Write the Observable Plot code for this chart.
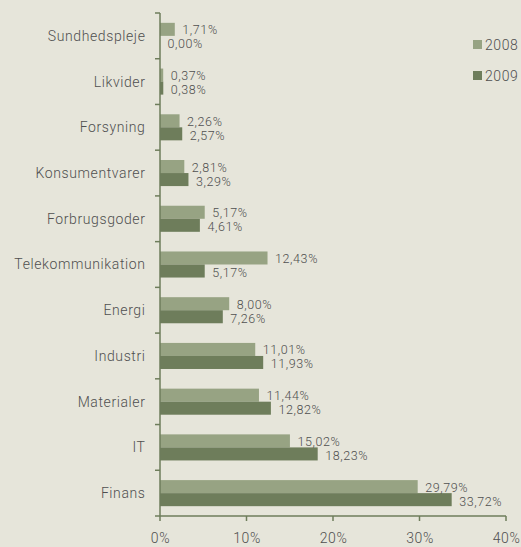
<!DOCTYPE html>
<html>
<head>
<meta charset="utf-8">
<script src="https://cdn.jsdelivr.net/npm/d3@7"></script>
<script src="https://cdn.jsdelivr.net/npm/@observablehq/plot@0.6"></script>
<style>
  html, body { margin: 0; padding: 0; background: #e6e5da; }
  #wrap { position: relative; width: 521px; height: 547px; }
  #legend { position: absolute; left: 473px; top: 37px; font-family: Roboto, sans-serif; font-weight: 300; font-size: 14px; color: #4f4f4f; }
  #legend div { display: flex; align-items: center; height: 15px; margin-bottom: 16px; letter-spacing: 0.6px; }
  #legend span.sw { display: inline-block; width: 9px; height: 9px; margin-right: 3px; }
  svg text { font-weight: 300; }
</style>
</head>
<body>
<div id="wrap"><div id="legend"></div></div>
<script>
const categories = ["Sundhedspleje", "Likvider", "Forsyning", "Konsumentvarer", "Forbrugsgoder", "Telekommunikation", "Energi", "Industri", "Materialer", "IT", "Finans"];
const values2008 = [1.71, 0.37, 2.26, 2.81, 5.17, 12.43, 8.00, 11.01, 11.44, 15.02, 29.79];
const values2009 = [0.00, 0.38, 2.57, 3.29, 4.61, 5.17, 7.26, 11.93, 12.82, 18.23, 33.72];
const years = ["2008", "2009"];
const xTicks = [0, 10, 20, 30, 40];

const colors = {"2008": "#97a383", "2009": "#6e7d5b"};
const axisColor = "#6e7d5b";
const textColor = "#4f4f4f";
const font = 'Roboto, sans-serif';

const W = 521, H = 547, mt = 13, mb = 31, ml = 160, mr = 15;
const padIn = 0.43;
const step = (H - mt - mb) / categories.length;
const bw = step * (1 - padIn);

const data = [];
categories.forEach((c, i) => {
  data.push({cat: c, year: "2008", v: values2008[i]});
  data.push({cat: c, year: "2009", v: values2009[i]});
});
const d08 = data.filter(d => d.year === "2008");
const d09 = data.filter(d => d.year === "2009");
const fmt = v => v.toFixed(2).replace(".", ",") + "%";

function axes(index, scales, values, dimensions) {
  const x = scales.x;
  const g = d3.create("svg:g").attr("stroke", axisColor).attr("stroke-width", 1.5);
  const {marginTop, marginBottom, height} = dimensions;
  const x0 = x(0);
  const yb = height - marginBottom;
  g.append("line").attr("x1", x0).attr("x2", x0).attr("y1", marginTop).attr("y2", yb);
  g.append("line").attr("x1", x0 - 5).attr("x2", x(40)).attr("y1", yb).attr("y2", yb);
  const s = (yb - marginTop) / categories.length;
  for (let i = 0; i < categories.length; i++) {
    const yy = marginTop + i * s;
    g.append("line").attr("x1", x0 - 5).attr("x2", x0).attr("y1", yy).attr("y2", yy);
  }
  for (const t of xTicks) {
    g.append("line").attr("x1", x(t)).attr("x2", x(t)).attr("y1", yb).attr("y2", yb + 5);
  }
  return g.node();
}

const chart = Plot.plot({
  width: W, height: H,
  marginTop: mt, marginBottom: mb, marginLeft: ml, marginRight: mr,
  style: {background: "transparent", fontFamily: font, color: textColor},
  x: {domain: [0, 40], ticks: xTicks, tickFormat: d => d + "%", label: null},
  y: {domain: categories, paddingInner: padIn, paddingOuter: padIn / 2, round: false, label: null},
  marks: [
    Plot.barX(d08, {y: "cat", x: "v", fill: colors["2008"], insetBottom: bw / 2, insetTop: 0}),
    Plot.barX(d09, {y: "cat", x: "v", fill: colors["2009"], insetTop: bw / 2, insetBottom: 0}),
    Plot.text(d08, {y: "cat", x: "v", text: d => fmt(d.v), textAnchor: "start", dx: 7, dy: -6, fontSize: 12.5, fill: textColor}),
    Plot.text(d09, {y: "cat", x: "v", text: d => fmt(d.v), textAnchor: "start", dx: 7, dy: 8, fontSize: 12.5, fill: textColor}),
    Plot.axisY({tickSize: 0, tickPadding: 15, fontSize: 14, fill: textColor}),
    Plot.axisX({ticks: xTicks, tickFormat: d => d + "%", tickSize: 0, tickPadding: 17, fontSize: 14, fill: textColor}),
    axes
  ]
});
chart.style.letterSpacing = "0.6px";
document.getElementById("wrap").prepend(chart);

const legend = document.getElementById("legend");
for (const yr of years) {
  const row = document.createElement("div");
  const sw = document.createElement("span");
  sw.className = "sw";
  sw.style.background = colors[yr];
  row.appendChild(sw);
  row.appendChild(document.createTextNode(yr));
  legend.appendChild(row);
}
</script>
</body>
</html>
